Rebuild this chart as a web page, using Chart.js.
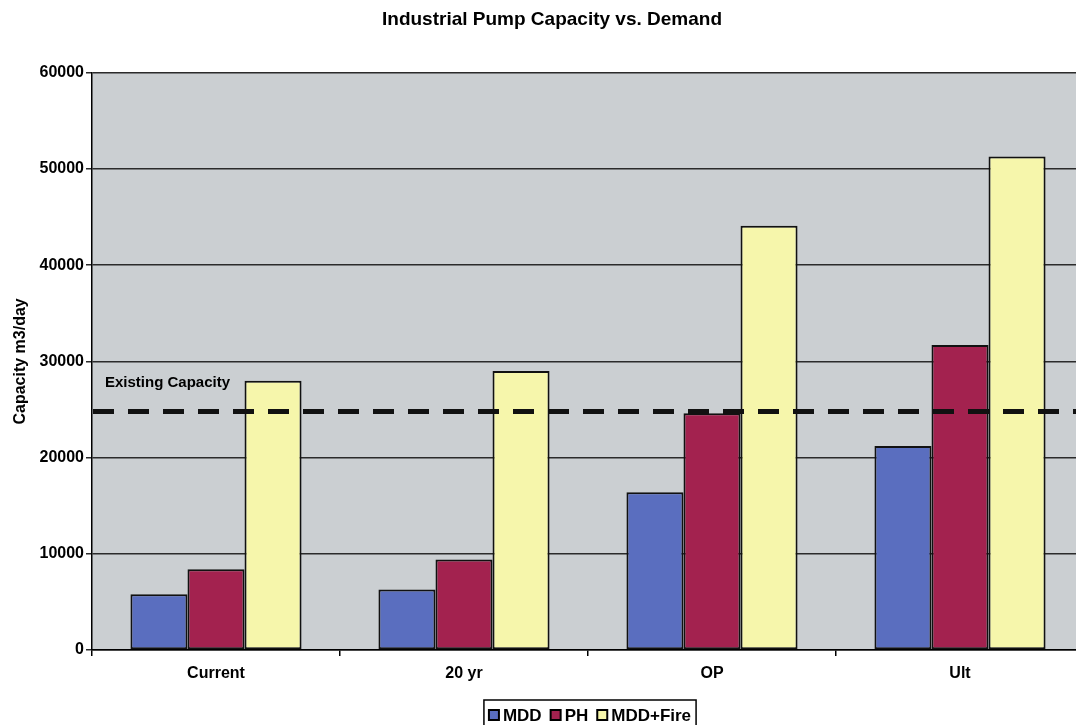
<!DOCTYPE html>
<html>
<head>
<meta charset="utf-8">
<script src="https://cdn.jsdelivr.net/npm/chart.js@4.4.1/dist/chart.umd.min.js"></script>
<style>
  html, body { margin: 0; padding: 0; background: #fff; overflow: hidden; }
  .wrap { width: 1104px; height: 725px; }
</style>
</head>
<body>
<div class="wrap"><canvas id="pumpChart" width="1104" height="725"></canvas></div>
<script>
const categories = ['Current', '20 yr', 'OP', 'Ult'];
const mddValues = [5800, 6300, 16400, 21200];
const phValues = [8400, 9400, 24600, 31700];
const mddFireValues = [28000, 29000, 44100, 51300];
const existingCapacity = 24800;
const yTicks = [0, 10000, 20000, 30000, 40000, 50000, 60000];

const FONT = 'Arial, "Liberation Sans", sans-serif';

// grey plot area
const plotBackground = {
  id: 'plotBackground',
  beforeDraw(chart) {
    const { ctx, chartArea } = chart;
    ctx.save();
    ctx.fillStyle = '#cbcfd2';
    ctx.fillRect(chartArea.left, chartArea.top, chartArea.right - chartArea.left, chartArea.bottom - chartArea.top);
    ctx.restore();
  }
};

// title centred on the page, not on the padded box
const centreTitle = {
  id: 'centreTitle',
  afterLayout(chart) {
    const t = chart.titleBlock;
    if (!t) return;
    const shift = chart.width / 2 - (t.left + t.right) / 2;
    t.left += shift;
    t.right += shift;
  }
};

// dashed existing capacity line + its label
const capacityLine = {
  id: 'capacityLine',
  afterDatasetsDraw(chart) {
    const { ctx, chartArea } = chart;
    const y = chart.scales.y.getPixelForValue(existingCapacity);
    ctx.save();
    ctx.strokeStyle = '#111';
    ctx.lineWidth = 5;
    ctx.setLineDash([21, 14]);
    ctx.beginPath();
    ctx.moveTo(chartArea.left + 1, y);
    ctx.lineTo(chartArea.right, y);
    ctx.stroke();
    ctx.setLineDash([]);
    ctx.fillStyle = '#000';
    ctx.font = 'bold 15px ' + FONT;
    ctx.textBaseline = 'alphabetic';
    ctx.fillText('Existing Capacity', chartArea.left + 13, y - 24);
    ctx.restore();
  }
};

// boxed legend under the plot, centred on the plot area
const boxLegend = {
  id: 'boxLegend',
  afterDraw(chart) {
    const { ctx, chartArea } = chart;
    const sets = chart.data.datasets;
    ctx.save();
    ctx.font = 'bold 17px ' + FONT;
    const marker = 10, gap = 4, itemGap = 9, pad = 5;
    let total = pad * 2;
    sets.forEach((ds, i) => {
      total += marker + gap + ctx.measureText(ds.label).width;
      if (i < sets.length - 1) total += itemGap;
    });
    const top = 700;
    const cx = (chartArea.left + chartArea.right) / 2 + 2;
    let x = cx - total / 2;
    ctx.strokeStyle = '#000';
    ctx.lineWidth = 1.5;
    ctx.strokeRect(x, top, total, 30);
    x += pad;
    const mid = top + 15;
    sets.forEach(ds => {
      ctx.fillStyle = ds.backgroundColor;
      ctx.fillRect(x, mid - marker / 2, marker, marker);
      ctx.lineWidth = 2;
      ctx.strokeRect(x, mid - marker / 2, marker, marker);
      x += marker + gap;
      ctx.fillStyle = '#000';
      ctx.textBaseline = 'middle';
      ctx.fillText(ds.label, x, mid + 1);
      x += ctx.measureText(ds.label).width + itemGap;
    });
    ctx.restore();
  }
};

new Chart(document.getElementById('pumpChart'), {
  type: 'bar',
  data: {
    labels: categories,
    datasets: [
      { label: 'MDD', data: mddValues, backgroundColor: '#5a6ebf' },
      { label: 'PH', data: phValues, backgroundColor: '#a3224f' },
      { label: 'MDD+Fire', data: mddFireValues, backgroundColor: '#f6f6ab' },
    ].map(ds => Object.assign(ds, {
      borderColor: '#111',
      borderWidth: 2,
      borderSkipped: false,
      categoryPercentage: 0.69,
      barPercentage: 1.0,
    })),
  },
  options: {
    responsive: false,
    animation: false,
    devicePixelRatio: 1,
    layout: { padding: { left: 0, right: 20, top: 0, bottom: 0 } },
    plugins: {
      legend: { display: false },
      tooltip: { enabled: false },
      title: {
        display: true,
        text: 'Industrial Pump Capacity vs. Demand',
        color: '#000',
        font: { family: FONT, size: 19, weight: 'bold' },
        padding: { top: 8, bottom: 42 },
      },
    },
    scales: {
      x: {
        afterFit(scale) { scale.height = 75; },
        grid: { offset: true, drawOnChartArea: false, drawTicks: true, tickLength: 6, color: '#000', lineWidth: 1.5 },
        border: { display: true, color: '#000', width: 1.5 },
        ticks: { color: '#000', padding: 8, font: { family: FONT, size: 16, weight: 'bold' } },
      },
      y: {
        min: 0,
        max: 60000,
        afterFit(scale) { scale.width = 92; },
        afterBuildTicks(scale) { scale.ticks = yTicks.map(v => ({ value: v })); },
        grid: { color: '#2b2b2b', lineWidth: 1.5, drawTicks: true, tickLength: 6 },
        border: { display: true, color: '#000', width: 1.5 },
        ticks: {
          color: '#000',
          padding: 2,
          font: { family: FONT, size: 16, weight: 'bold' },
          callback: v => String(v),
        },
        title: {
          display: true,
          text: 'Capacity m3/day',
          color: '#000',
          font: { family: FONT, size: 16, weight: 'bold' },
          padding: { top: 11, bottom: 0 },
        },
      },
    },
  },
  plugins: [plotBackground, centreTitle, capacityLine, boxLegend],
});
</script>
</body>
</html>
